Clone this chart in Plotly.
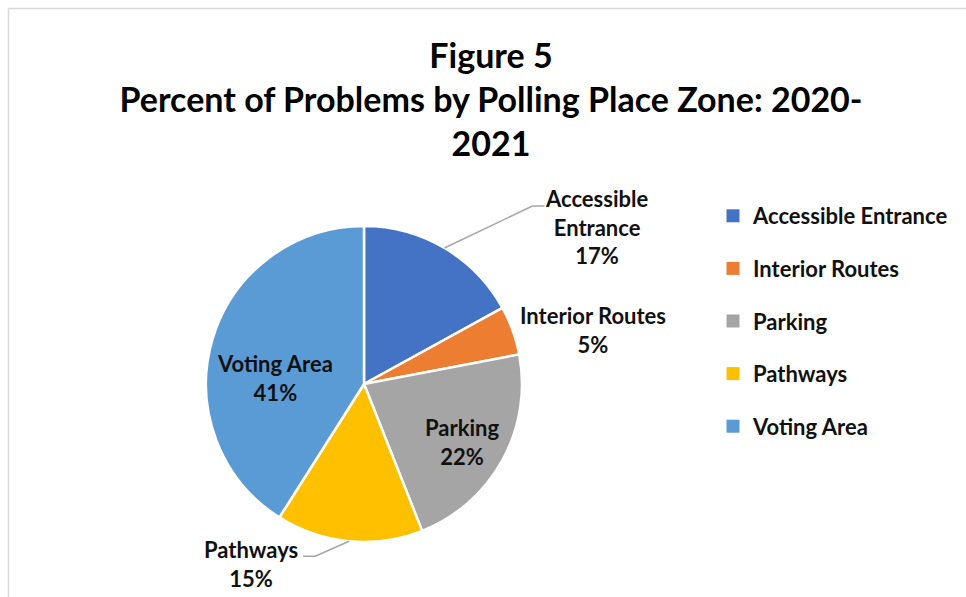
import math
import plotly.graph_objects as go

# ---- data ----
categories = ["Accessible Entrance", "Interior Routes", "Parking", "Pathways", "Voting Area"]
values = [17, 5, 22, 15, 41]
label_text = ["Accessible<br>Entrance", "Interior Routes", "Parking", "Pathways", "Voting Area"]
colors = ["#4472C4", "#ED7D31", "#A5A5A5", "#FFC000", "#5B9BD5"]

W, H = 966, 597
CX, CY, R = 364, 384, 158  # pie centre / radius in px

FONT = "Lato, Carlito, 'Open Sans', sans-serif"
TXT = "#111111"

fig = go.Figure()
fig.add_trace(go.Pie(
    labels=categories, values=values, sort=False, direction="clockwise", rotation=0,
    marker=dict(colors=colors, line=dict(color="white", width=2.5)),
    textinfo="none", hoverinfo="label+percent", showlegend=False,
    domain=dict(x=[(CX - R) / W, (CX + R) / W], y=[1 - (CY + R) / H, 1 - (CY - R) / H]),
))

# dummy traces for the legend (spaced entries)
for c, col in zip(categories, colors):
    fig.add_trace(go.Scatter(x=[None], y=[None], mode="markers", name="<b>" + c + "</b>", legendgroup=c,
                             marker=dict(symbol="square", size=13, color=col)))

# label placement (style offsets relative to each slice's mid-angle edge point)
label_style = [
    dict(off=(152, -21), line=[(88, -42), (100, -42)]),
    dict(off=(80, 0), line=None),
    dict(off=(-40, -18), line=None),
    dict(off=(-98, 23), line=[(-34, 15), (-46, 15)]),
    dict(off=(63, 38), line=None),
]

total = sum(values)
cum = 0
annotations = []
shapes = []
for v, lt, st in zip(values, label_text, label_style):
    mid = (cum + v / 2) / total * 2 * math.pi
    cum += v
    ex = CX + R * math.sin(mid)
    ey = CY - R * math.cos(mid)
    pct = round(v / total * 100)
    lx, ly = ex + st["off"][0], ey + st["off"][1]
    annotations.append(dict(
        x=lx / W, y=1 - ly / H, xref="paper", yref="paper", showarrow=False,
        text=f"<b>{lt}<br>{pct}%</b>", align="center", xanchor="center", yanchor="middle",
        font=dict(family=FONT, size=22, color=TXT),
    ))
    if st["line"]:
        pts = [(ex, ey)] + [(ex + a, ey + b) for a, b in st["line"]]
        path = "M " + " L ".join(f"{px / W},{1 - py / H}" for px, py in pts)
        shapes.append(dict(type="path", path=path, xref="paper", yref="paper",
                           line=dict(color="#A6A6A6", width=1.5)))

# chart border (top/left visible)
shapes.append(dict(type="rect", xref="paper", yref="paper", x0=8.5 / W, y0=-0.1, x1=1.1, y1=1 - 8.5 / H,
                   line=dict(color="#D9D9D9", width=1.5), layer="below"))

fig.update_layout(
    width=W, height=H, margin=dict(l=0, r=0, t=0, b=0),
    paper_bgcolor="white", plot_bgcolor="white",
    title=dict(text="<b>Figure 5<br>Percent of Problems by Polling Place Zone: 2020-<br>2021</b>",
               x=491 / W, xanchor="center", y=1 - 68 / H, yanchor="top",
               font=dict(family=FONT, size=34, color="#000000")),
    xaxis=dict(visible=False), yaxis=dict(visible=False),
    legend=dict(x=713 / W, y=1 - 195 / H, xanchor="left", yanchor="top",
                traceorder="grouped", tracegroupgap=21,
                font=dict(family=FONT, size=22, color=TXT), bgcolor="rgba(0,0,0,0)"),
    annotations=annotations, shapes=shapes,
    font=dict(family=FONT, color=TXT),
)

fig.write_html("out.html")
